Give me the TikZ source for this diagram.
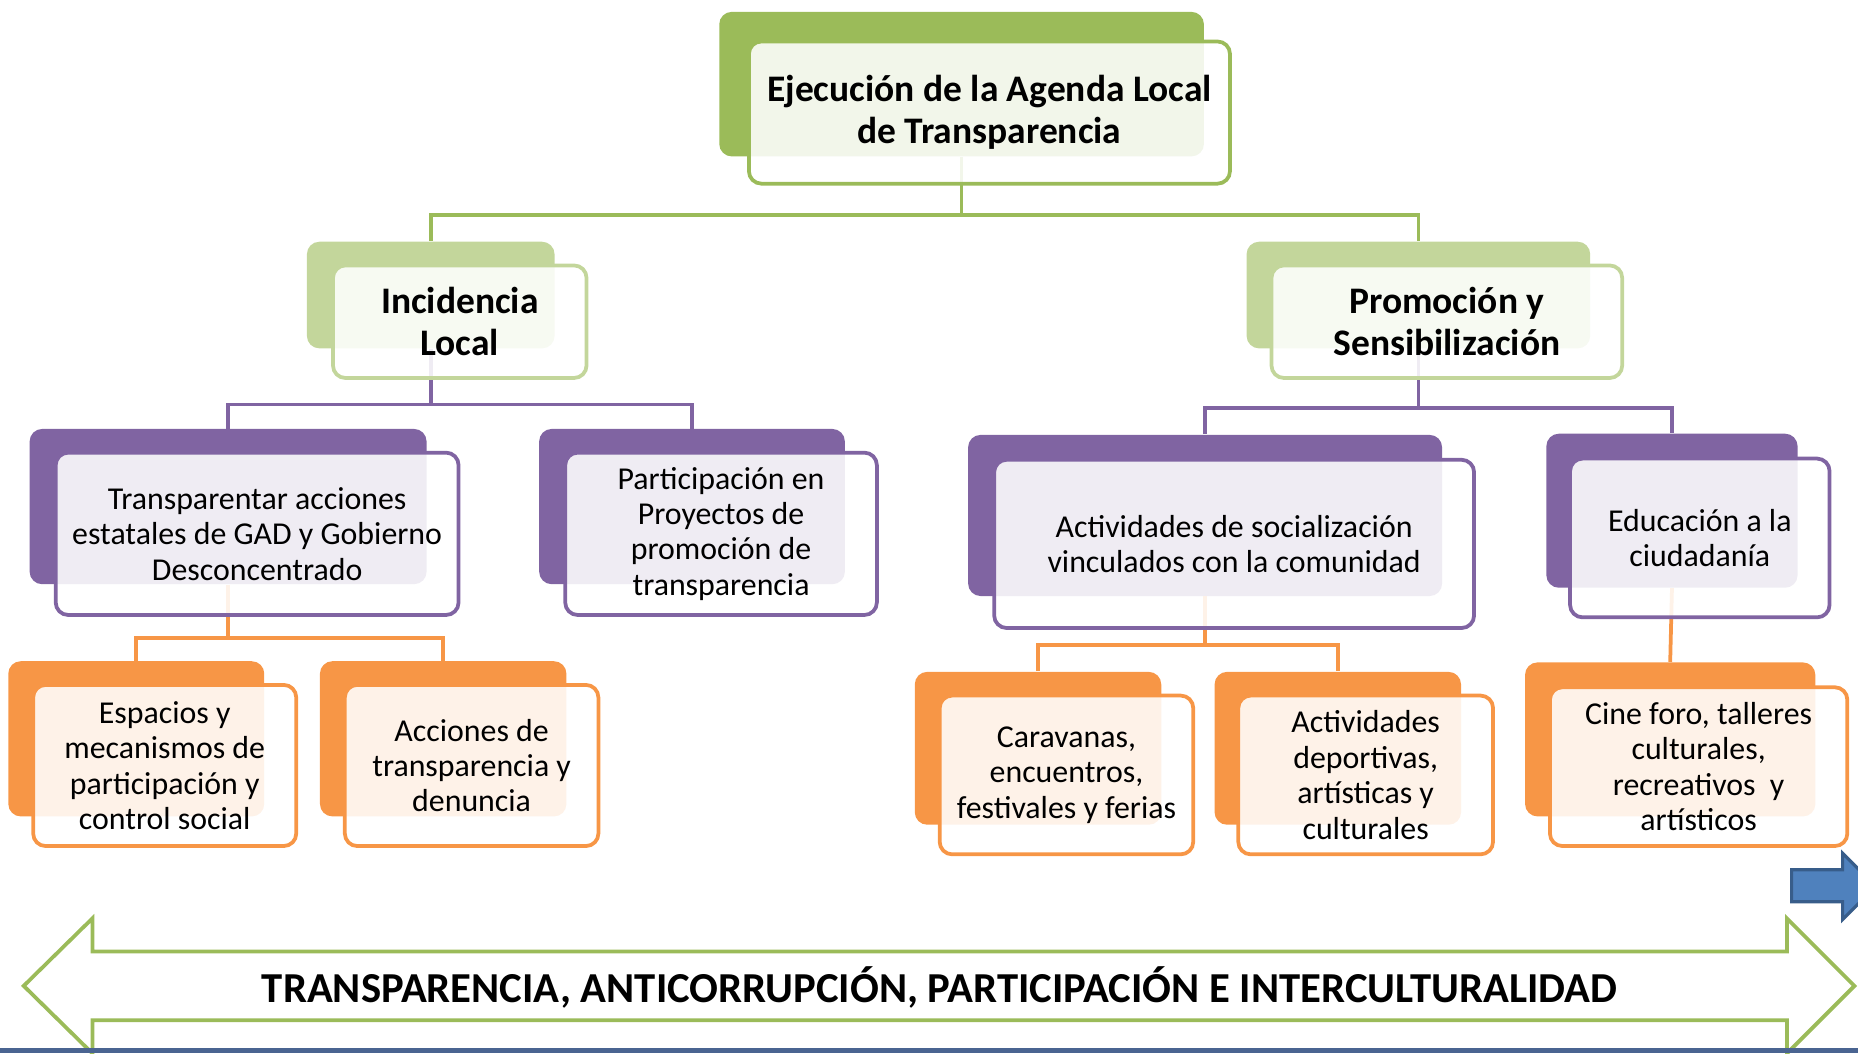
\documentclass[tikz,border=0pt]{standalone}
\usepackage{fontspec}
\setmainfont{Carlito}
\definecolor{verde}{HTML}{9BBB59}
\definecolor{verdeclaro}{HTML}{C3D69B}
\definecolor{morado}{HTML}{8064A2}
\definecolor{naranja}{HTML}{F79646}
\definecolor{azul}{HTML}{4F81BD}
\definecolor{azuloscuro}{HTML}{385D8A}
\definecolor{franja}{HTML}{4A6491}
\tikzset{
  fondo/.style={fill=#1, rounded corners=6pt, inner sep=0pt},
  caja/.style={draw=#1, line width=1.8pt, fill=white, fill opacity=0.88, text opacity=1,
    rounded corners=6pt, align=center, inner sep=0pt, font=\fontsize{15.3}{17}\selectfont},
  titulo/.style={font=\fontsize{18}{20}\selectfont\bfseries},
  rama/.style={draw=#1, line width=1.8pt},
}
\begin{document}
\begin{tikzpicture}[x=0.2mm, y=-0.2mm]
    \useasboundingbox (0,0) rectangle (1568,889);
    \clip (0,0) rectangle (1568,889);
    \node[fondo=verde, minimum width=81.8mm, minimum height=24.4mm] (ejeB) at (811.5,71) {};
    \node[fondo=verdeclaro, minimum width=41.8mm, minimum height=18mm] (incB) at (363.5,249) {};
    \node[fondo=verdeclaro, minimum width=58mm, minimum height=18mm] (proB) at (1197,249) {};
    \node[fondo=morado, minimum width=67mm, minimum height=26.2mm] (traB) at (192.5,427.5) {};
    \node[fondo=morado, minimum width=51.6mm, minimum height=26.2mm] (parB) at (584,427.5) {};
    \node[fondo=morado, minimum width=80mm, minimum height=27.2mm] (actB) at (1017,435) {};
    \node[fondo=morado, minimum width=42.4mm, minimum height=26mm] (eduB) at (1411,431) {};
    \node[fondo=naranja, minimum width=43.2mm, minimum height=26.2mm] (espB) at (115,623.5) {};
    \node[fondo=naranja, minimum width=41.6mm, minimum height=26.2mm] (accB) at (374,623.5) {};
    \node[fondo=naranja, minimum width=41.6mm, minimum height=25.8mm] (carB) at (876,631.5) {};
    \node[fondo=naranja, minimum width=41.6mm, minimum height=25.8mm] (depB) at (1129,631.5) {};
    \node[fondo=naranja, minimum width=49mm, minimum height=26mm] (cinB) at (1409.5,624) {};

    \draw[rama=verde] (ejeB.south) -- ++(0,49) -| (incB.north);
    \draw[rama=verde] (ejeB.south) -- ++(0,49) -| (proB.north);
    \draw[rama=morado] (incB.south) -- ++(0,47) -| (traB.north);
    \draw[rama=morado] (incB.south) -- ++(0,47) -| (parB.north);
    \draw[rama=morado] (proB.south) -- ++(0,50) -| (actB.north);
    \draw[rama=morado] (proB.south) -- ++(0,50) -| (eduB.north);
    \draw[rama=naranja] (traB.south) -- ++(0,45) -| (espB.north);
    \draw[rama=naranja] (traB.south) -- ++(0,45) -| (accB.north);
    \draw[rama=naranja] (actB.south) -- ++(0,41) -| (carB.north);
    \draw[rama=naranja] (actB.south) -- ++(0,41) -| (depB.north);
    \draw[rama=naranja] (eduB.south) -- (cinB.north);

    \node[caja=verde, titulo, minimum width=81.2mm, minimum height=24mm] (eje) at (835,95)
      {Ejecución de la Agenda Local\\de Transparencia};
    \node[caja=verdeclaro, titulo, minimum width=42.8mm, minimum height=19mm] (inc) at (388,271.5)
      {Incidencia\\Local};
    \node[caja=verdeclaro, titulo, minimum width=59.2mm, minimum height=19mm] (pro) at (1221,271.5)
      {Promoción y\\Sensibilización};
    \node[caja=morado, minimum width=68mm, minimum height=27.4mm] (tra) at (217,450.5)
      {Transparentar acciones\\estatales de GAD y Gobierno\\Desconcentrado};
    \node[caja=morado, minimum width=52.6mm, minimum height=27.4mm] (par) at (608.5,450.5)
      {Participación en\\Proyectos de\\promoción de\\transparencia};
    \node[caja=morado, minimum width=81mm, minimum height=28.4mm] (act) at (1041.5,459)
      {Actividades de socialización\\vinculados con la comunidad};
    \node[caja=morado, minimum width=43.8mm, minimum height=26.8mm] (edu) at (1434.5,454)
      {Educación a la\\ciudadanía};
    \node[caja=naranja, minimum width=44.4mm, minimum height=27.2mm] (esp) at (139,646)
      {Espacios y\\mecanismos de\\participación y\\control social};
    \node[caja=naranja, minimum width=42.8mm, minimum height=27.2mm] (acc) at (398,646)
      {Acciones de\\transparencia y\\denuncia};
    \node[caja=naranja, minimum width=42.8mm, minimum height=26.8mm] (car) at (900,654)
      {Caravanas,\\encuentros,\\festivales y ferias};
    \node[caja=naranja, minimum width=43mm, minimum height=26.8mm] (dep) at (1152.5,654)
      {Actividades\\deportivas,\\artísticas y\\culturales};
    \node[caja=naranja, minimum width=50.2mm, minimum height=26.8mm] (cin) at (1433.5,647)
      {Cine foro, talleres\\culturales,\\recreativos~~y\\artísticos};

    \draw[azuloscuro, line width=1.5pt, fill=azul] (1512,734) -- (1555,734) -- (1555,720)
      -- (1583,748) -- (1555,776) -- (1555,761) -- (1512,761) -- cycle;
    \draw[verde, line width=1.8pt, fill=white] (20,832) -- (78,775) -- (78,803) -- (1508,803)
      -- (1508,775) -- (1565,832) -- (1508,889) -- (1508,861) -- (78,861) -- (78,889) -- cycle;
    \node[font=\fontsize{20.5}{22}\selectfont\bfseries] (lema) at (793,833)
      {TRANSPARENCIA, ANTICORRUPCIÓN, PARTICIPACIÓN E INTERCULTURALIDAD};
    \fill[franja] (0,884) rectangle (1568,889);
\end{tikzpicture}
\end{document}
